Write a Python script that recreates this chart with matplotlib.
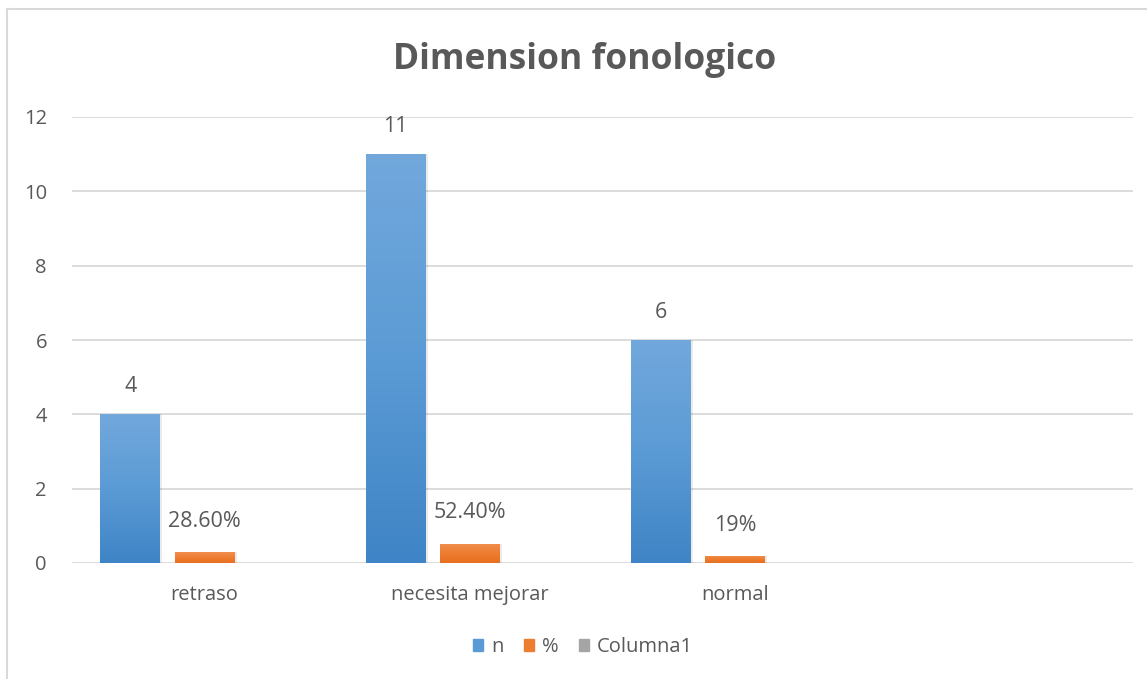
import numpy as np
import matplotlib.pyplot as plt
from matplotlib.patches import Rectangle
from matplotlib.colors import LinearSegmentedColormap

plt.rcParams['font.family'] = ['Open Sans', 'DejaVu Sans']

# data
categories = ["retraso", "necesita mejorar", "normal", ""]
n_vals = [4, 11, 6]
pct_vals = [0.286, 0.524, 0.19]
pct_labels = ["28.60%", "52.40%", "19%"]
series = ["n", "%", "Columna1"]

txt = "#595959"
grid_col = "#d9d9d9"
blue_cm = LinearSegmentedColormap.from_list("b", ["#3f84c6", "#5b9bd5", "#72a8dc"])
orange_cm = LinearSegmentedColormap.from_list("o", ["#e8701f", "#ed7d31", "#f28f4f"])

fig = plt.figure(figsize=(11.47, 6.79), dpi=100)
ax = fig.add_axes([72 / 1147, 1 - 563 / 679, (1133 - 72) / 1147, (563 - 117) / 679])

w = 0.226
off = 0.28
x = np.arange(len(categories))
grad = np.linspace(0, 1, 256).reshape(-1, 1)


def grad_bar(xc, h, cmap):
    # bar with a vertical gradient, clipped to its rectangle
    r = Rectangle((xc - w / 2, 0), w, h, facecolor="none", edgecolor="none", zorder=3)
    ax.add_patch(r)
    im = ax.imshow(grad, cmap=cmap, origin="lower", aspect="auto",
                   extent=(xc - w / 2, xc + w / 2, 0, h), zorder=3)
    im.set_clip_path(r)
    # faint shadow on the right
    ax.add_patch(Rectangle((xc + w / 2, 0), 0.008, h, facecolor="#000000",
                           alpha=0.08, edgecolor="none", zorder=2))


for i, v in enumerate(n_vals):
    grad_bar(x[i] - off, v, blue_cm)
    ax.annotate(str(v), (x[i] - off, v), xytext=(0, 20), textcoords="offset points",
                ha="center", va="center", fontsize=15.5, color=txt)
for i, v in enumerate(pct_vals):
    grad_bar(x[i], v, orange_cm)
    ax.annotate(pct_labels[i], (x[i], v), xytext=(0, 22), textcoords="offset points",
                ha="center", va="center", fontsize=15.5, color=txt)

ax.set_xlim(-0.5, 3.5)
ax.set_ylim(0, 12)
ax.set_yticks(range(0, 13, 2))
ax.set_xticks(x)
ax.set_xticklabels(categories)
ax.tick_params(axis="both", length=0, labelsize=14.5, colors=txt)
ax.tick_params(axis="y", pad=18)
ax.tick_params(axis="x", pad=16)
ax.grid(axis="y", color=grid_col, linewidth=1.3, zorder=0)
ax.set_axisbelow(True)
for s in ax.spines.values():
    s.set_visible(False)

fig.text(585 / 1147, 1 - 60 / 679, "Dimension fonologico", ha="center", va="center",
         fontsize=25.5, fontweight="bold", color=txt)

# legend
handles = [Rectangle((0, 0), 1, 1, color=c) for c in ["#5b9bd5", "#ed7d31", "#a5a5a5"]]
fig.legend(handles, series, loc="center", bbox_to_anchor=(583 / 1147, 1 - 647 / 679),
           ncol=3, frameon=False, fontsize=14.5, labelcolor=txt, handlelength=0.5,
           handleheight=0.5, handletextpad=0.4, columnspacing=1.0)

# chart border (left and top only visible)
fig.add_artist(plt.Line2D([7 / 1147, 7 / 1147], [0, 1 - 9 / 679], color=grid_col, linewidth=1.5))
fig.add_artist(plt.Line2D([7 / 1147, 1], [1 - 9 / 679, 1 - 9 / 679], color=grid_col, linewidth=1.5))

fig.savefig("out.png", dpi=100)
